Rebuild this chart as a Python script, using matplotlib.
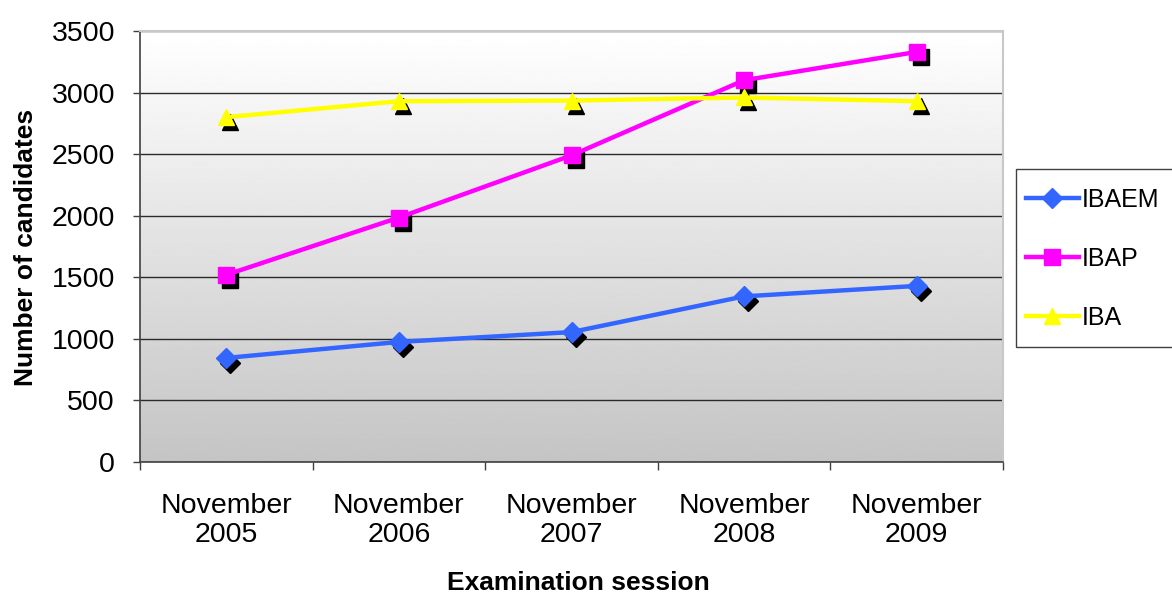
import numpy as np
import matplotlib
matplotlib.use("Agg")
import matplotlib.pyplot as plt
from matplotlib import transforms
from matplotlib.patches import Rectangle

plt.rcParams['font.family'] = ['Liberation Sans', 'DejaVu Sans']

sessions = ["November\n2005", "November\n2006", "November\n2007", "November\n2008", "November\n2009"]
ibaem = [845, 975, 1055, 1345, 1430]
ibap = [1520, 1985, 2490, 3100, 3330]
iba = [2800, 2930, 2935, 2960, 2930]

fig = plt.figure(figsize=(11.72, 5.97), dpi=100)
ax = fig.add_axes([140/1172, 1 - 462/597, 863/1172, 431/597])

x = np.arange(len(sessions))

# gradient plot background, white at the top to grey at the bottom
grad = np.linspace(1.0, 0.77, 256).reshape(-1, 1)
ax.imshow(grad, cmap='gray', vmin=0, vmax=1, aspect='auto',
          extent=[0, 1, 0, 1], transform=ax.transAxes, zorder=0)

ax.set_xlim(-0.5, 4.5)
ax.set_ylim(0, 3500)
ax.set_yticks(np.arange(0, 3501, 500))
ax.yaxis.grid(True, color='#2a2a2a', linewidth=1.0, zorder=1)
ax.set_axisbelow(True)

series = [
    ("IBAEM", ibaem, '#3366ff', 'D', 10),
    ("IBAP", ibap, '#ff00ff', 's', 11),
    ("IBA", iba, '#ffff00', '^', 12),
]

# black drop shadows behind the markers
shadow = transforms.offset_copy(ax.transData, fig=fig, x=4, y=-5, units='dots')
for name, vals, col, mk, ms in series:
    ax.plot(x, vals, linestyle='none', marker=mk, markersize=ms,
            color='black', transform=shadow, zorder=3, clip_on=False)

for name, vals, col, mk, ms in series:
    ax.plot(x, vals, color=col, linewidth=3.2, marker=mk, markersize=ms,
            markeredgecolor=col, label=name, zorder=4, clip_on=False)

ax.set_xticks(x)
ax.set_xticklabels(sessions, fontsize=20.5, linespacing=1.15)
ax.set_xticks(np.arange(-0.5, 5.0, 1.0), minor=True)
ax.tick_params(axis='x', which='major', length=0, pad=22)
ax.tick_params(axis='x', which='minor', length=6, width=1, color='#404040')
ax.tick_params(axis='y', labelsize=20.5, length=5, width=1, color='#404040', pad=13)

for s in ['left', 'bottom']:
    ax.spines[s].set_color('#404040')
    ax.spines[s].set_linewidth(1.2)
for s in ['top', 'right']:
    ax.spines[s].set_color('#c8c8c8')
    ax.spines[s].set_linewidth(1.5)

fig.text(578/1172, 1 - 583/597, "Examination session", fontsize=19,
         fontweight='bold', ha='center', va='center')
fig.text(26/1172, 1 - 247/597, "Number of candidates", fontsize=19,
         fontweight='bold', ha='center', va='center', rotation=90)

# legend box runs off the right edge, as in the original
fig.patches.append(Rectangle((1016/1172, 1 - 347/597), 200/1172, 178/597,
                             transform=fig.transFigure, facecolor='white',
                             edgecolor='#404040', linewidth=1.0))
leg = fig.legend(loc='upper left', bbox_to_anchor=(1026/1172, 1 - 188/597),
                 fontsize=18, frameon=False, handlelength=2.1,
                 handletextpad=0.15, labelspacing=1.4,
                 borderpad=0, borderaxespad=0)

fig.savefig("out.png", dpi=100)
